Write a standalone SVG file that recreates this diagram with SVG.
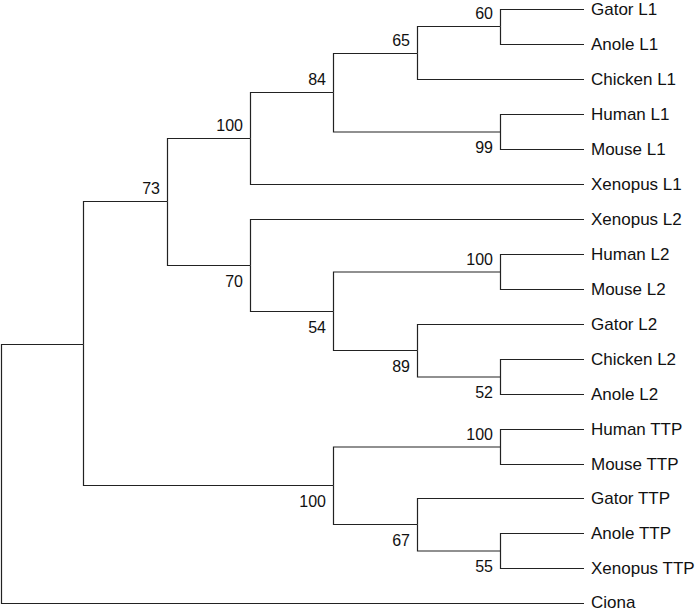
<svg xmlns="http://www.w3.org/2000/svg" width="700" height="610" viewBox="0 0 700 610">
<style>
  .bg { fill: #ffffff; }
  .edge { fill: none; stroke: #222222; stroke-width: 1.2; }
  .leaf { font-family: "Liberation Sans", Arial, sans-serif; font-size: 17px; fill: #111111; }
  .bs { font-family: "Liberation Sans", Arial, sans-serif; font-size: 16px; fill: #111111; text-anchor: end; }
</style>
<rect class="bg" x="0" y="0" width="700" height="610"/>
<g id="connectors">
  <path class="edge" d="M1.5 474 V344.5 H83.5"/>
  <path class="edge" d="M1.5 474 V603.5 H584"/>
  <path class="edge" d="M83.5 344.5 V201.5 H167.5"/>
  <path class="edge" d="M83.5 344.5 V485.5 H333.5"/>
  <path class="edge" d="M167.5 201.5 V138.5 H250.5"/>
  <path class="edge" d="M167.5 201.5 V265.5 H250.5"/>
  <path class="edge" d="M250.5 138.5 V92.5 H333.5"/>
  <path class="edge" d="M250.5 138.5 V184.5 H584"/>
  <path class="edge" d="M333.5 92.5 V53.5 H417.5"/>
  <path class="edge" d="M333.5 92.5 V132 H500.5"/>
  <path class="edge" d="M417.5 53.5 V26.5 H500.5"/>
  <path class="edge" d="M417.5 53.5 V79.5 H584"/>
  <path class="edge" d="M500.5 26.5 V9.5 H584"/>
  <path class="edge" d="M500.5 26.5 V44.5 H584"/>
  <path class="edge" d="M500.5 132 V114.5 H584"/>
  <path class="edge" d="M500.5 132 V149.5 H584"/>
  <path class="edge" d="M250.5 265.5 V219.5 H584"/>
  <path class="edge" d="M250.5 265.5 V311.5 H333.5"/>
  <path class="edge" d="M333.5 311.5 V272 H500.5"/>
  <path class="edge" d="M333.5 311.5 V350.5 H417.5"/>
  <path class="edge" d="M500.5 272 V254.5 H584"/>
  <path class="edge" d="M500.5 272 V289.5 H584"/>
  <path class="edge" d="M417.5 350.5 V324.5 H584"/>
  <path class="edge" d="M417.5 350.5 V377 H500.5"/>
  <path class="edge" d="M500.5 377 V359.5 H584"/>
  <path class="edge" d="M500.5 377 V394.5 H584"/>
  <path class="edge" d="M333.5 485.5 V447 H500.5"/>
  <path class="edge" d="M333.5 485.5 V524.5 H417.5"/>
  <path class="edge" d="M500.5 447 V429.5 H584"/>
  <path class="edge" d="M500.5 447 V464.5 H584"/>
  <path class="edge" d="M417.5 524.5 V498.5 H584"/>
  <path class="edge" d="M417.5 524.5 V551 H500.5"/>
  <path class="edge" d="M500.5 551 V533.5 H584"/>
  <path class="edge" d="M500.5 551 V568.5 H584"/>
</g>
<g id="n60"><text class="bs" x="493" y="19">60</text></g>
<g id="n65"><text class="bs" x="410" y="46">65</text></g>
<g id="n84"><text class="bs" x="326" y="85">84</text></g>
<g id="n99"><text class="bs" x="493" y="153">99</text></g>
<g id="n100_L1"><text class="bs" x="243" y="131">100</text></g>
<g id="n73"><text class="bs" x="160" y="194">73</text></g>
<g id="n70"><text class="bs" x="243" y="286.5">70</text></g>
<g id="n54"><text class="bs" x="326" y="332.5">54</text></g>
<g id="n100_L2"><text class="bs" x="493" y="264.5">100</text></g>
<g id="n89"><text class="bs" x="410" y="371.5">89</text></g>
<g id="n52"><text class="bs" x="493" y="398">52</text></g>
<g id="n100_TTP"><text class="bs" x="326" y="506.5">100</text></g>
<g id="n100_HMTTP"><text class="bs" x="493" y="439.5">100</text></g>
<g id="n67"><text class="bs" x="410" y="545.5">67</text></g>
<g id="n55"><text class="bs" x="493" y="572">55</text></g>
<g id="leaf_gator_l1"><text class="leaf" x="591" y="15">Gator L1</text></g>
<g id="leaf_anole_l1"><text class="leaf" x="591" y="50">Anole L1</text></g>
<g id="leaf_chicken_l1"><text class="leaf" x="591" y="85">Chicken L1</text></g>
<g id="leaf_human_l1"><text class="leaf" x="591" y="120">Human L1</text></g>
<g id="leaf_mouse_l1"><text class="leaf" x="591" y="155">Mouse L1</text></g>
<g id="leaf_xenopus_l1"><text class="leaf" x="591" y="190">Xenopus L1</text></g>
<g id="leaf_xenopus_l2"><text class="leaf" x="591" y="225">Xenopus L2</text></g>
<g id="leaf_human_l2"><text class="leaf" x="591" y="260">Human L2</text></g>
<g id="leaf_mouse_l2"><text class="leaf" x="591" y="295">Mouse L2</text></g>
<g id="leaf_gator_l2"><text class="leaf" x="591" y="330">Gator L2</text></g>
<g id="leaf_chicken_l2"><text class="leaf" x="591" y="365">Chicken L2</text></g>
<g id="leaf_anole_l2"><text class="leaf" x="591" y="400">Anole L2</text></g>
<g id="leaf_human_ttp"><text class="leaf" x="591" y="435">Human TTP</text></g>
<g id="leaf_mouse_ttp"><text class="leaf" x="591" y="470">Mouse TTP</text></g>
<g id="leaf_gator_ttp"><text class="leaf" x="591" y="504">Gator TTP</text></g>
<g id="leaf_anole_ttp"><text class="leaf" x="591" y="539">Anole TTP</text></g>
<g id="leaf_xenopus_ttp"><text class="leaf" x="591" y="574">Xenopus TTP</text></g>
<g id="leaf_ciona"><text class="leaf" x="591" y="607.5">Ciona</text></g>
</svg>
